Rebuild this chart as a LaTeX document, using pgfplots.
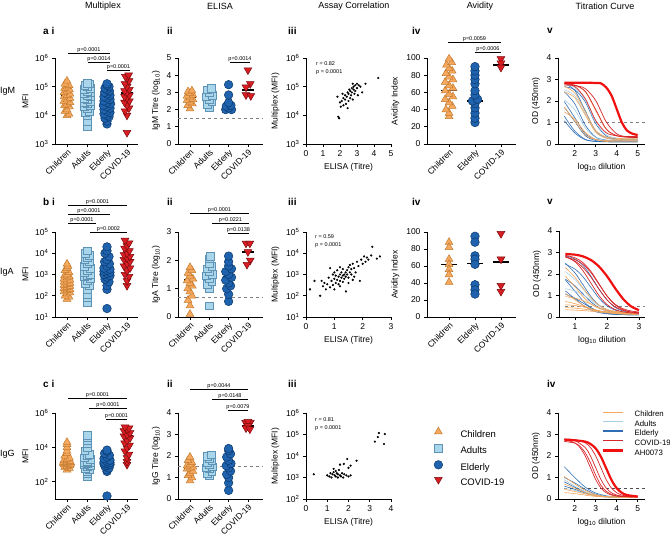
\documentclass[border=0pt]{standalone}
\usepackage{fontspec}
\setmainfont{Liberation Sans}
\usepackage{pgfplots}
\pgfplotsset{compat=1.18}
\definecolor{chF}{HTML}{F6A95E}
\definecolor{chE}{HTML}{C27A2E}
\definecolor{adF}{HTML}{A9D6EA}
\definecolor{adE}{HTML}{5E93B5}
\definecolor{elF}{HTML}{1F63AE}
\definecolor{elE}{HTML}{0B386B}
\definecolor{cvF}{HTML}{D81E24}
\definecolor{cvE}{HTML}{7A0C0C}
\definecolor{lnCh}{HTML}{F5A65B}
\definecolor{lnAd}{HTML}{A6CEE3}
\definecolor{lnEl}{HTML}{2F6EB5}
\definecolor{lnCv}{HTML}{D7262B}
\definecolor{lnAH}{HTML}{F01010}
\newcommand\tf{\fontsize{8.5}{9}\selectfont}
\newcommand\ttl{\fontsize{9}{10}\selectfont}
\newcommand\pl{\fontsize{10}{11}\selectfont\bfseries}
\newcommand\pf{\fontsize{5.5}{6}\selectfont}
\newcommand\brk[4]{\draw[line width=0.6pt] (#1,#3) -- (#2,#3); \node[font=\pf, anchor=south, inner sep=0.6pt] at ({(#1+#2)/2},#3) {p=#4};}
\pgfplotsset{
 prism/.style={scale only axis, anchor=south west, axis lines=left, axis line style={-,line width=0.8pt},
   every tick/.style={black,line width=0.8pt}, tick align=outside, major tick length=3pt, clip=false,
   ticklabel style={font=\tf}, label style={font=\tf}, /pgf/number format/assume math mode=true,
   scaled ticks=false, yminorticks=false, xminorticks=false},
 catx/.style={xtick={0,1,2,3}, xticklabels={Children,Adults,Elderly,COVID-19}, xticklabel style={rotate=45, anchor=north east, inner sep=1pt}},
 catxx/.style={xtick={0,1,2}, xticklabels={Children,Elderly,COVID-19}, xticklabel style={rotate=45, anchor=north east, inner sep=1pt}},
 ch/.style={only marks, mark=triangle*, mark size=4.5pt, mark options={fill=chF, draw=chE, line width=0.5pt}, forget plot},
 ad/.style={only marks, mark=square*, mark size=3.8pt, mark options={fill=adF, draw=adE, line width=0.5pt}, forget plot},
 el/.style={only marks, mark=*, mark size=4.3pt, mark options={fill=elF, draw=elE, line width=0.5pt}, forget plot},
 cv/.style={only marks, mark=triangle*, mark size=4.5pt, mark options={rotate=180, fill=cvF, draw=cvE, line width=0.5pt}, forget plot},
 dots/.style={only marks, mark=*, mark size=0.9pt, black, forget plot},
 med/.style={black, line width=1.6pt, forget plot, no markers},
 refl/.style={gray, dashed, line width=0.6pt, forget plot, no markers},
 tb/.style={smooth, no markers, lnEl, line width=0.6pt, forget plot},
 tl/.style={smooth, no markers, lnAd, line width=0.6pt, forget plot},
 to/.style={smooth, no markers, lnCh, line width=0.6pt, forget plot},
 tr/.style={smooth, no markers, lnCv, line width=0.7pt, forget plot},
 tR/.style={smooth, no markers, lnAH, line width=2.2pt, forget plot},
}
\begin{document}
\begin{tikzpicture}
\useasboundingbox (0pt,0pt) rectangle (670pt,-539pt);

%================ ROW A =================
\begin{axis}[prism, catx, at={(55pt,-144pt)}, width=83pt, height=86pt, ymode=log, ymin=1e3, ymax=1e6,
 ytick={1e3,1e4,1e5,1e6}, yticklabels={10\textsuperscript{3},10\textsuperscript{4},10\textsuperscript{5},10\textsuperscript{6}},
 xmin=-0.6, xmax=3.55, ylabel={MFI}]
\addplot[ch] coordinates {(0,1.0e4) (0.1,1.12e4) (-0.1,1.41e4) (0,1.58e4) (0.12,2.0e4) (-0.12,2.24e4) (0,2.51e4) (0.15,2.82e4) (-0.15,3.16e4) (0,3.55e4) (0.15,3.98e4) (-0.15,4.47e4) (0,5.01e4) (0.15,5.62e4) (-0.15,6.31e4) (0,7.08e4) (0.12,7.94e4) (-0.12,8.91e4) (0,1.0e5) (0.1,1.12e5) (-0.1,1.26e5) (0,1.58e5)};
\addplot[ad] coordinates {(1,4.0e3) (1,6.3e3) (1,1.0e4) (0.9,1.26e4) (1.1,1.41e4) (1,1.78e4) (0.85,2.0e4) (1.15,2.24e4) (1,2.51e4) (0.85,2.82e4) (1.15,3.16e4) (1,3.55e4) (0.85,3.98e4) (1.15,4.47e4) (1,5.01e4) (0.85,5.62e4) (1.15,6.31e4) (1,7.08e4) (0.85,7.94e4) (1.15,8.91e4) (1,1.0e5) (0.88,1.12e5) (1.12,1.26e5) (1,1.3e5)};
\addplot[el] coordinates {(2,5.0e3) (2,6.3e3) (1.9,7.9e3) (2.1,8.9e3) (2,1.0e4) (1.85,1.12e4) (2.15,1.26e4) (2,1.41e4) (1.85,1.58e4) (2.15,1.78e4) (2,2.0e4) (1.82,2.24e4) (2.18,2.51e4) (2,2.82e4) (1.85,3.16e4) (2.15,3.55e4) (2,3.98e4) (1.85,4.47e4) (2.15,5.01e4) (2,5.62e4) (1.88,6.31e4) (2.12,7.08e4) (2,7.94e4) (1.9,8.91e4) (2.1,1.0e5) (2,1.12e5) (2,1.26e5)};
\addplot[cv] coordinates {(3,2.5e3) (3,1.0e4) (2.9,1.41e4) (3.1,1.78e4) (3,2.24e4) (2.88,2.82e4) (3.12,3.16e4) (3,3.98e4) (2.88,4.47e4) (3.12,5.01e4) (3,6.31e4) (2.88,7.08e4) (3.12,7.94e4) (3,1.0e5) (2.9,1.26e5) (3.1,1.58e5) (3,2.0e5) (2.92,2.24e5) (3.08,2.51e5)};
\addplot[med] coordinates {(-0.3,5e4) (0.3,5e4)};
\addplot[med] coordinates {(0.7,4.5e4) (1.3,4.5e4)};
\addplot[med] coordinates {(1.7,3e4) (2.3,3e4)};
\addplot[med] coordinates {(2.7,6e4) (3.3,6e4)};
\end{axis}

\begin{axis}[prism, catx, at={(178pt,-144pt)}, width=85pt, height=86pt, ymin=0, ymax=5, ytick={0,1,2,3,4,5},
 xmin=-0.62, xmax=3.78, ylabel={IgM Titre (log\textsubscript{10})}]
\addplot[refl] coordinates {(-0.62,1.5) (3.78,1.5)};
\addplot[ch] coordinates {(0,2.05) (-0.12,2.25) (0.12,2.35) (0,2.45) (-0.15,2.55) (0.15,2.6) (0,2.7) (-0.15,2.8) (0.15,2.85) (0,2.95) (-0.1,3.05) (0.1,3.1)};
\addplot[ad] coordinates {(1,2.15) (0.88,2.3) (1.12,2.45) (1,2.6) (0.85,2.75) (1.15,2.85) (1,3.0) (0.9,3.15) (1.1,3.25)};
\addplot[el] coordinates {(1.85,2.0) (2.15,2.0) (2,2.1) (1.88,2.2) (2.12,2.25) (2,2.4) (2,2.85) (2,3.45)};
\addplot[cv] coordinates {(3,4.3) (3.12,3.5) (2.9,3.3) (2.9,2.85) (3.15,2.8)};
\addplot[med] coordinates {(-0.3,2.7) (0.3,2.7)};
\addplot[med] coordinates {(0.7,2.7) (1.3,2.7)};
\addplot[med] coordinates {(1.7,2.2) (2.3,2.2)};
\addplot[med] coordinates {(2.7,3.15) (3.3,3.15)};
\end{axis}

\begin{axis}[prism, at={(306pt,-144pt)}, width=85pt, height=86pt, xmin=0, xmax=5, xtick={0,1,2,3,4,5},
 ymode=log, ymin=1e3, ymax=1e6, ytick={1e3,1e4,1e5,1e6}, yticklabels={10\textsuperscript{3},10\textsuperscript{4},10\textsuperscript{5},10\textsuperscript{6}},
 xlabel={ELISA (Titre)}, ylabel={Multiplex (MFI)}]
\addplot[dots] coordinates {(1.9,8.9e3) (1.95,7.9e3) (2.0,2.82e4) (2.05,2.0e4) (2.1,3.16e4) (2.2,3.98e4) (2.2,2.24e4) (2.3,5.01e4) (2.3,3.55e4) (2.35,2.51e4) (2.4,4.47e4) (2.45,6.31e4) (2.5,3.16e4) (2.5,5.62e4) (2.55,7.94e4) (2.6,3.98e4) (2.6,7.08e4) (2.65,5.01e4) (2.7,8.91e4) (2.7,6.31e4) (2.75,3.55e4) (2.8,7.94e4) (2.8,1.0e5) (2.85,5.62e4) (2.9,1.12e5) (2.9,7.08e4) (3.0,8.91e4) (3.05,5.01e4) (3.1,1.12e5) (3.2,1.0e5) (3.3,6.31e4) (3.5,1.26e5) (4.25,2.0e5) (2.45,1.78e4) (2.15,5.62e4) (2.75,1.26e5) (1.85,4.47e4) (3.0,1.26e5)};
\end{axis}

\begin{axis}[prism, catxx, at={(427pt,-144pt)}, width=89pt, height=86pt, ymin=0, ymax=100, ytick={0,20,40,60,80,100},
 xmin=-0.85, xmax=2.58, ylabel={Avidity Index}]
\addplot[ch] coordinates {(0,32) (0,36) (-0.12,40) (0.12,44) (0,48) (-0.15,52) (0.15,55) (0,58) (-0.15,62) (0.15,65) (0,68) (-0.15,72) (0.15,75) (0,78) (-0.12,82) (0.12,85) (0,88) (-0.1,92) (0.1,95) (0,99)};
\addplot[el] coordinates {(1,25) (1,30) (1,36) (1,42) (1,47) (0.9,50) (1.1,52) (1,57) (1,62) (1,70) (1,75) (1,80) (1,85) (1,90)};
\addplot[cv] coordinates {(2,99) (2,94) (2,89)};
\addplot[med] coordinates {(-0.3,62) (0.3,62)};
\addplot[med] coordinates {(0.7,50) (1.3,50)};
\addplot[med] coordinates {(1.7,92) (2.3,92)};
\end{axis}

\begin{axis}[prism, at={(558pt,-144pt)}, width=87pt, height=86pt, xmin=1.2, xmax=5.35, xtick={2,3,4,5},
 ymin=0, ymax=4, ytick={0,1,2,3,4}, xlabel={log\textsubscript{10} dilution}, ylabel={OD (450nm)}]
\addplot[refl] coordinates {(1.5,1) (5.35,1)};
\addplot[tb] coordinates {(1.5,1.975) (2,1.225) (2.5,0.475) (3,0.217) (3.5,0.163) (4,0.15) (4.5,0.15) (5,0.15)};
\addplot[tb] coordinates {(1.5,1.295) (2,0.605) (2.5,0.219) (3,0.122) (3.5,0.11) (4,0.1) (4.5,0.1) (5,0.1)};
\addplot[tb] coordinates {(1.5,2.43) (2,1.87) (2.5,0.878) (3,0.322) (3.5,0.182) (4,0.15) (4.5,0.15) (5,0.15)};
\addplot[tb] coordinates {(1.5,1.713) (2,1.05) (2.5,0.387) (3,0.159) (3.5,0.111) (4,0.1) (4.5,0.1) (5,0.1)};
\addplot[tb] coordinates {(1.5,2.816) (2,2.492) (2.5,1.55) (3,0.608) (3.5,0.284) (4,0.216) (4.5,0.2) (5,0.2)};
\addplot[tb] coordinates {(1.5,2.668) (2,2.525) (2.5,1.958) (3,0.943) (3.5,0.375) (4,0.233) (4.5,0.2) (5,0.2)};
\addplot[tb] coordinates {(1.5,1.084) (2,0.516) (2.5,0.198) (3,0.118) (3.5,0.1) (4,0.1) (4.5,0.1) (5,0.1)};
\addplot[tl] coordinates {(1.5,2.526) (2,2.238) (2.5,1.4) (3,0.562) (3.5,0.274) (4,0.214) (4.5,0.2) (5,0.2)};
\addplot[tl] coordinates {(1.5,2.767) (2,2.622) (2.5,2.043) (3,1.007) (3.5,0.429) (4,0.283) (4.5,0.265) (5,0.25)};
\addplot[tl] coordinates {(1.5,2.057) (2,1.591) (2.5,0.759) (3,0.294) (3.5,0.177) (4,0.15) (4.5,0.15) (5,0.15)};
\addplot[to] coordinates {(1.5,2.429) (2,2.153) (2.5,1.35) (3,0.547) (3.5,0.271) (4,0.214) (4.5,0.2) (5,0.2)};
\addplot[to] coordinates {(1.5,2.673) (2,2.373) (2.5,1.5) (3,0.628) (3.5,0.328) (4,0.265) (4.5,0.25) (5,0.25)};
\addplot[to] coordinates {(1.5,1.721) (2,1.075) (2.5,0.429) (3,0.207) (3.5,0.161) (4,0.15) (4.5,0.15) (5,0.15)};
\addplot[to] coordinates {(1.5,2.785) (2,2.723) (2.5,2.423) (3,1.55) (3.5,0.678) (4,0.378) (4.5,0.315) (5,0.3)};
\addplot[to] coordinates {(1.5,1.495) (2,1.155) (2.5,0.546) (3,0.205) (3.5,0.12) (4,0.1) (4.5,0.1) (5,0.1)};
\addplot[tr] coordinates {(1.5,2.8) (2,2.74) (2.5,2.45) (3,1.6) (3.5,0.7) (4,0.39) (4.5,0.32) (5,0.3)};
\addplot[tr] coordinates {(1.5,2.745) (2,2.718) (2.5,2.579) (3,2.022) (3.5,1.028) (4,0.472) (4.5,0.332) (5,0.3)};
\addplot[tr] coordinates {(1.5,2.818) (2,2.675) (2.5,2.108) (3,1.093) (3.5,0.525) (4,0.383) (4.5,0.35) (5,0.35)};
\addplot[tR] coordinates {(1.5,2.85) (2,2.85) (2.5,2.85) (3,2.84) (3.25,2.82) (3.5,2.63) (3.75,2.26) (4,1.63) (4.25,0.99) (4.5,0.62) (4.75,0.48) (5,0.42)};
\end{axis}

%================ ROW B =================
\begin{axis}[prism, catx, at={(55pt,-317pt)}, width=83pt, height=85pt, ymode=log, ymin=1e1, ymax=1e5,
 ytick={1e1,1e2,1e3,1e4,1e5}, yticklabels={10\textsuperscript{1},10\textsuperscript{2},10\textsuperscript{3},10\textsuperscript{4},10\textsuperscript{5}},
 xmin=-0.6, xmax=3.55, ylabel={MFI}]
\addplot[ch] coordinates {(0,7.0e1) (0.1,8.9e1) (-0.1,1.0e2) (0,1.26e2) (0.15,1.41e2) (-0.15,1.58e2) (0,1.78e2) (0.15,2.0e2) (-0.15,2.24e2) (0,2.51e2) (0.15,2.82e2) (-0.15,3.16e2) (0,3.55e2) (0.15,3.98e2) (-0.15,4.47e2) (0,5.01e2) (0.15,5.62e2) (-0.15,6.31e2) (0,7.08e2) (0.12,7.94e2) (-0.12,8.91e2) (0,1.0e3) (0.1,1.26e3) (-0.1,1.58e3) (0,2.0e3) (0.05,2.51e3) (0,3.16e3)};
\addplot[ad] coordinates {(1,5.0e1) (1,8.0e1) (1,1.2e2) (1,2.0e2) (1.1,3.0e2) (0.9,4.0e2) (1,5.0e2) (1.15,6.3e2) (0.85,7.9e2) (1,8.9e2) (1.15,1.0e3) (0.85,1.26e3) (1,1.58e3) (1.15,2.0e3) (0.85,2.51e3) (1,3.16e3) (1.12,4.0e3) (0.88,5.0e3) (1,6.3e3) (1.1,8.0e3) (0.9,1.0e4) (1,1.3e4)};
\addplot[el] coordinates {(2,2.5e1) (2,2.0e2) (2,3.0e2) (2.1,4.5e2) (1.9,6.0e2) (2,7.5e2) (2.15,8.9e2) (1.85,1.0e3) (2,1.12e3) (2.15,1.26e3) (1.85,1.41e3) (2,1.58e3) (2.15,1.78e3) (1.85,2.0e3) (2,2.5e3) (2.12,3.2e3) (1.88,4.0e3) (2,5.0e3) (2.1,7.0e3) (1.9,1.0e4) (2,1.3e4) (2,2.0e4)};
\addplot[cv] coordinates {(3,3.0e2) (3,5.0e2) (3.1,8.0e2) (2.9,1.0e3) (3,1.5e3) (3.15,2.0e3) (2.85,2.5e3) (3,3.2e3) (3.15,4.0e3) (2.85,5.0e3) (3,6.0e3) (3.15,7.0e3) (2.85,8.5e3) (3,1.0e4) (3.12,1.3e4) (2.88,1.7e4) (3,2.2e4) (3.1,3.0e4) (2.9,4.0e4)};
\addplot[med] coordinates {(-0.3,3.8e2) (0.3,3.8e2)};
\addplot[med] coordinates {(0.7,1.0e3) (1.3,1.0e3)};
\addplot[med] coordinates {(1.7,1.45e3) (2.3,1.45e3)};
\addplot[med] coordinates {(2.7,5.0e3) (3.3,5.0e3)};
\end{axis}

\begin{axis}[prism, catx, at={(178pt,-317pt)}, width=85pt, height=85pt, ymin=0, ymax=3, ytick={0,1,2,3},
 xmin=-0.62, xmax=3.78, ylabel={IgA Titre (log\textsubscript{10})}]
\addplot[refl] coordinates {(-0.62,0.7) (3.78,0.7)};
\addplot[ch] coordinates {(0,0.1) (0,0.4) (-0.1,0.6) (0.1,0.75) (0,0.9) (-0.12,1.0) (0.12,1.1) (0,1.2) (-0.15,1.28) (0.15,1.35) (0,1.45) (-0.1,1.55) (0.1,1.65) (0,1.75)};
\addplot[ad] coordinates {(1,0.4) (1,1.0) (0.88,1.15) (1.12,1.25) (1,1.35) (0.85,1.45) (1.15,1.5) (1,1.6) (0.88,1.7) (1.12,1.8) (1,1.9) (1,2.05) (1.05,2.15)};
\addplot[el] coordinates {(2,0.55) (2,0.8) (1.9,1.0) (2.1,1.1) (2,1.2) (1.85,1.3) (2.15,1.4) (2,1.5) (1.85,1.6) (2.15,1.7) (2,1.8) (2,1.95) (2,2.15)};
\addplot[cv] coordinates {(2.9,2.6) (3.1,2.6) (3,2.3) (3.12,2.0) (2.95,1.85)};
\addplot[med] coordinates {(-0.3,1.3) (0.3,1.3)};
\addplot[med] coordinates {(0.7,1.45) (1.3,1.45)};
\addplot[med] coordinates {(1.7,1.42) (2.3,1.42)};
\addplot[med] coordinates {(2.7,2.3) (3.3,2.3)};
\end{axis}

\begin{axis}[prism, at={(306pt,-317pt)}, width=85pt, height=85pt, xmin=0, xmax=3, xtick={0,1,2,3},
 ymode=log, ymin=1e1, ymax=1e5, ytick={1e1,1e2,1e3,1e4,1e5}, yticklabels={10\textsuperscript{1},10\textsuperscript{2},10\textsuperscript{3},10\textsuperscript{4},10\textsuperscript{5}},
 xlabel={ELISA (Titre)}, ylabel={Multiplex (MFI)}]
\addplot[dots] coordinates {(0.14,2.0e2) (0.5,1.0e2) (0.55,5.0e2) (0.6,2.8e2) (0.65,4.0e2) (0.7,2.0e2) (0.75,3.5e2) (0.8,7.1e2) (0.85,2.0e3) (0.85,2.5e2) (0.9,5.0e2) (0.95,1.0e3) (0.95,3.2e2) (1.0,6.3e2) (1.0,1.26e3) (1.05,4.0e2) (1.05,8.9e2) (1.1,5.6e2) (1.1,1.58e3) (1.15,7.9e2) (1.15,3.5e2) (1.2,1.0e3) (1.2,5.0e2) (1.2,2.2e3) (1.25,7.1e2) (1.25,1.26e3) (1.3,8.9e2) (1.3,4.5e2) (1.3,1.8e3) (1.35,1.0e3) (1.35,6.3e2) (1.4,1.26e3) (1.4,7.9e2) (1.41,1.6e2) (1.45,1.6e3) (1.45,1.0e3) (1.5,7.1e2) (1.5,2.2e3) (1.5,4.0e2) (1.55,1.26e3) (1.55,2.8e3) (1.6,1.0e3) (1.6,1.8e3) (1.65,5.6e2) (1.65,3.2e3) (1.7,2.0e3) (1.75,1.26e3) (1.8,4.0e3) (1.85,2.5e3) (1.9,5.0e2) (1.95,5.0e3) (2.0,3.2e3) (2.05,7.1e3) (2.1,4.0e3) (2.15,6.3e3) (2.2,5.0e3) (2.3,7.9e3) (2.34,2.0e4) (2.5,5.6e3) (2.61,7.1e3) (1.0,2.0e2) (1.2,2.8e2) (0.3,5.0e2) (1.7,7.9e2)};
\end{axis}

\begin{axis}[prism, catxx, at={(427pt,-317pt)}, width=89pt, height=85pt, ymin=0, ymax=100, ytick={0,20,40,60,80,100},
 xmin=-0.85, xmax=2.58, ylabel={Avidity Index}]
\addplot[ch] coordinates {(0,88) (0,82) (0,68) (0,62) (0,56) (0,50) (0,41)};
\addplot[el] coordinates {(1,95) (1,88) (1,72) (1,68) (1,62) (1,38) (1,32) (1,27)};
\addplot[cv] coordinates {(2,98) (2,68) (2,37) (2,30)};
\addplot[med] coordinates {(-0.3,62) (0.3,62)};
\addplot[med] coordinates {(0.7,63) (1.3,63)};
\addplot[med] coordinates {(1.7,65) (2.3,65)};
\end{axis}

\begin{axis}[prism, at={(559pt,-317pt)}, width=86pt, height=86pt, xmin=0.5, xmax=3.19, xtick={1,2,3},
 ymin=0, ymax=4, ytick={0,1,2,3,4}, xlabel={log\textsubscript{10} dilution}, ylabel={OD (450nm)}]
\addplot[refl] coordinates {(0.7,0.5) (3.19,0.5)};
\addplot[tb] coordinates {(0.7,2.5) (1,2.05) (1.25,1.5) (1.5,0.95) (1.75,0.558) (2,0.339) (2.25,0.234) (2.5,0.185) (2.75,0.166) (3,0.15)};
\addplot[tb] coordinates {(0.7,1.73) (1,1.2) (1.25,0.753) (1.5,0.432) (1.75,0.254) (2,0.168) (2.25,0.129) (2.5,0.113) (2.75,0.1) (3,0.1)};
\addplot[tb] coordinates {(0.7,1.76) (1,1.45) (1.25,1.075) (1.5,0.7) (1.75,0.429) (2,0.28) (2.25,0.207) (2.5,0.174) (2.75,0.16) (3,0.15)};
\addplot[tb] coordinates {(0.7,1.21) (1,0.85) (1.25,0.546) (1.5,0.327) (1.75,0.205) (2,0.147) (2.25,0.12) (2.5,0.109) (2.75,0.1) (3,0.1)};
\addplot[tb] coordinates {(0.7,2.45) (1,2.23) (1.25,1.872) (1.5,1.375) (1.75,0.878) (2,0.52) (2.25,0.322) (2.5,0.226) (2.75,0.182) (3,0.165)};
\addplot[tb] coordinates {(0.7,1.06) (1,0.873) (1.25,0.65) (1.5,0.427) (1.75,0.266) (2,0.177) (2.25,0.134) (2.5,0.114) (2.75,0.105) (3,0.1)};
\addplot[tb] coordinates {(0.7,2.85) (1,2.7) (1.25,2.4) (1.5,1.9) (1.75,1.3) (2,0.8) (2.25,0.45) (2.5,0.28) (2.75,0.2) (3,0.17)};
\addplot[tl] coordinates {(0.7,2.11) (1,1.747) (1.25,1.3) (1.5,0.853) (1.75,0.532) (2,0.354) (2.25,0.268) (2.5,0.229) (2.75,0.213) (3,0.2)};
\addplot[tl] coordinates {(0.7,1.32) (1,1.21) (1.25,1.03) (1.5,0.775) (1.75,0.521) (2,0.339) (2.25,0.238) (2.5,0.189) (2.75,0.166) (3,0.158)};
\addplot[to] coordinates {(0.7,1.9) (1,1.4) (1.25,0.95) (1.5,0.6) (1.75,0.4) (2,0.29) (2.25,0.24) (2.5,0.22) (2.75,0.2) (3,0.2)};
\addplot[to] coordinates {(0.7,1.09) (1,0.8) (1.25,0.556) (1.5,0.381) (1.75,0.284) (2,0.237) (2.25,0.216) (2.5,0.2) (2.75,0.2) (3,0.2)};
\addplot[to] coordinates {(0.7,0.95) (1,0.879) (1.25,0.762) (1.5,0.6) (1.75,0.438) (2,0.321) (2.25,0.256) (2.5,0.225) (2.75,0.21) (3,0.205)};
\addplot[to] coordinates {(0.7,0.72) (1,0.622) (1.25,0.5) (1.5,0.378) (1.75,0.291) (2,0.242) (2.25,0.219) (2.5,0.208) (2.75,0.2) (3,0.2)};
\addplot[to] coordinates {(0.7,0.57) (1,0.532) (1.25,0.466) (1.5,0.375) (1.75,0.284) (2,0.218) (2.25,0.181) (2.5,0.164) (2.75,0.156) (3,0.153)};
\addplot[to] coordinates {(0.7,0.44) (1,0.41) (1.25,0.37) (1.5,0.32) (1.75,0.27) (2,0.22) (2.25,0.19) (2.5,0.17) (2.75,0.16) (3,0.155)};
\addplot[to] coordinates {(0.7,0.34) (1,0.32) (1.25,0.3) (1.5,0.27) (1.75,0.23) (2,0.19) (2.25,0.16) (2.5,0.13) (2.75,0.12) (3,0.11)};
\addplot[to] coordinates {(0.7,2.3) (1,1.85) (1.25,1.35) (1.5,0.9) (1.75,0.55) (2,0.35) (2.25,0.26) (2.5,0.22) (2.75,0.2) (3,0.2)};
\addplot[tr] coordinates {(0.7,2.83) (1,2.57) (1.25,2.15) (1.5,1.575) (1.75,1.0) (2,0.58) (2.25,0.35) (2.5,0.24) (2.75,0.19) (3,0.17)};
\addplot[tr] coordinates {(0.7,2.87) (1,2.754) (1.25,2.527) (1.5,2.118) (1.75,1.55) (2,0.982) (2.25,0.573) (2.5,0.346) (2.75,0.237) (3,0.186)};
\addplot[tr] coordinates {(0.7,2.78) (1,2.665) (1.25,2.45) (1.5,2.063) (1.75,1.525) (2,0.987) (2.25,0.6) (2.5,0.386) (2.75,0.282) (3,0.234)};
\addplot[tr] coordinates {(0.7,2.8) (1,2.6) (1.25,2.3) (1.5,1.85) (1.75,1.3) (2,0.8) (2.25,0.48) (2.5,0.31) (2.75,0.23) (3,0.2)};
\addplot[tR] coordinates {(0.7,2.93) (1,2.9) (1.25,2.82) (1.5,2.65) (1.75,2.35) (2,1.9) (2.25,1.35) (2.5,0.85) (2.75,0.5) (3,0.32)};
\end{axis}

%================ ROW C =================
\begin{axis}[prism, catx, at={(55pt,-499pt)}, width=83pt, height=86pt, ymode=log, ymin=1e1, ymax=1e6,
 ytick={1e2,1e4,1e6}, yticklabels={10\textsuperscript{2},10\textsuperscript{4},10\textsuperscript{6}},
 xmin=-0.6, xmax=3.55, ylabel={MFI}]
\addplot[ch] coordinates {(0,5.0e2) (0.12,6.3e2) (-0.12,7.1e2) (0,7.9e2) (0.15,8.9e2) (-0.15,1.0e3) (0,1.05e3) (0.18,1.12e3) (-0.18,1.2e3) (0,1.26e3) (0.18,1.35e3) (-0.18,1.41e3) (0,1.5e3) (0.15,1.58e3) (-0.15,1.78e3) (0,2.0e3) (0.12,2.5e3) (-0.12,3.2e3) (0,4.5e3) (0,6.3e3) (0,1.0e4) (0,1.5e4) (0,2.0e4)};
\addplot[ad] coordinates {(1,2.0e2) (1,3.0e2) (1,4.0e2) (1.1,5.0e2) (0.9,6.3e2) (1,7.9e2) (1.15,8.9e2) (0.85,1.0e3) (1,1.12e3) (1.15,1.26e3) (0.85,1.41e3) (1,1.58e3) (1.15,2.0e3) (0.85,2.5e3) (1,3.2e3) (1.12,4.0e3) (0.88,6.3e3) (1,1.0e4) (1,1.6e4) (1,2.5e4) (1,4.0e4) (1,5.0e4)};
\addplot[el] coordinates {(2,1.5e1) (2,4.0e2) (2,5.0e2) (2.1,6.3e2) (1.9,7.9e2) (2,8.9e2) (2.15,1.0e3) (1.85,1.1e3) (2,1.2e3) (2.15,1.3e3) (1.85,1.4e3) (2,1.6e3) (2.15,1.8e3) (1.85,2.2e3) (2,2.8e3) (2.12,3.5e3) (1.88,4.5e3) (2,6.0e3) (2,7.0e3)};
\addplot[cv] coordinates {(3,1.0e3) (3,1.5e3) (3,2.5e3) (3.1,4.0e3) (2.9,6.0e3) (3,9.0e3) (3.12,1.3e4) (2.88,1.8e4) (3,2.5e4) (3.15,3.5e4) (2.85,4.5e4) (3,5.5e4) (3.15,7.0e4) (2.85,9.0e4) (3,1.1e5) (3.1,1.3e5) (2.9,1.5e5)};
\addplot[med] coordinates {(-0.3,1.3e3) (0.3,1.3e3)};
\addplot[med] coordinates {(0.7,1.3e3) (1.3,1.3e3)};
\addplot[med] coordinates {(1.7,1.3e3) (2.3,1.3e3)};
\addplot[med] coordinates {(2.7,5.0e4) (3.3,5.0e4)};
\end{axis}

\begin{axis}[prism, catx, at={(178pt,-499pt)}, width=85pt, height=86pt, ymin=0, ymax=4, ytick={0,1,2,3,4},
 xmin=-0.62, xmax=3.78, ylabel={IgG Titre (log\textsubscript{10})}]
\addplot[refl] coordinates {(-0.62,1.5) (3.78,1.5)};
\addplot[ch] coordinates {(0,0.85) (0.1,1.0) (-0.1,1.1) (0,1.2) (0.15,1.3) (-0.15,1.4) (0,1.45) (0.15,1.5) (-0.15,1.55) (0,1.6) (0.1,1.7) (-0.1,1.8) (0,1.95)};
\addplot[ad] coordinates {(1,1.1) (0.88,1.2) (1.12,1.3) (1,1.4) (0.85,1.45) (1.15,1.5) (1,1.6) (0.88,1.7) (1.12,1.8) (1,1.9) (0.9,2.0) (1.1,2.05)};
\addplot[el] coordinates {(2,0.4) (2,0.75) (2,1.0) (1.9,1.15) (2.1,1.3) (2,1.45) (1.88,1.55) (2.12,1.65) (2,1.8) (1.9,1.95) (2.1,2.1) (2,2.25) (2,2.35)};
\addplot[cv] coordinates {(2.88,3.55) (3.12,3.55) (3,3.6) (3,3.4) (2.9,3.3) (3.1,3.25)};
\addplot[med] coordinates {(-0.3,1.45) (0.3,1.45)};
\addplot[med] coordinates {(0.7,1.45) (1.3,1.45)};
\addplot[med] coordinates {(1.7,1.55) (2.3,1.55)};
\addplot[med] coordinates {(2.7,3.4) (3.3,3.4)};
\end{axis}

\begin{axis}[prism, at={(306pt,-499pt)}, width=85pt, height=86pt, xmin=0, xmax=4, xtick={0,1,2,3,4},
 ymode=log, ymin=1e2, ymax=1e6, ytick={1e2,1e3,1e4,1e5,1e6}, yticklabels={10\textsuperscript{2},10\textsuperscript{3},10\textsuperscript{4},10\textsuperscript{5},10\textsuperscript{6}},
 xlabel={ELISA (Titre)}, ylabel={Multiplex (MFI)},
 legend style={at={(1.494,0.837)}, anchor=north west, draw=none, fill=none, font=\fontsize{9.5}{10}\selectfont, row sep=5pt, inner sep=0pt, nodes={inner sep=0pt, text height=7pt, text depth=2pt}},
 legend cell align=left,
 legend image code/.code={\draw[#1] plot coordinates {(5pt,3pt)}; \path (0pt,0pt) (27pt,0pt);}]
\addlegendimage{only marks, mark=triangle*, mark size=4.5pt, mark options={fill=chF, draw=chE, line width=0.5pt}}
\addlegendentry{Children}
\addlegendimage{only marks, mark=square*, mark size=3.8pt, mark options={fill=adF, draw=adE, line width=0.5pt}}
\addlegendentry{Adults}
\addlegendimage{only marks, mark=*, mark size=4.3pt, mark options={fill=elF, draw=elE, line width=0.5pt}}
\addlegendentry{Elderly}
\addlegendimage{only marks, mark=triangle*, mark size=4.5pt, mark options={rotate=180, fill=cvF, draw=cvE, line width=0.5pt}}
\addlegendentry{COVID-19}
\addplot[dots] coordinates {(0.37,1.41e3) (1.0,1.26e3) (1.1,1.12e3) (1.15,1.58e3) (1.2,1.0e3) (1.25,1.41e3) (1.3,1.78e3) (1.35,1.26e3) (1.4,1.12e3) (1.4,2.0e3) (1.45,1.58e3) (1.5,1.0e3) (1.5,1.41e3) (1.55,2.24e3) (1.6,1.26e3) (1.65,1.12e3) (1.7,1.58e3) (1.75,1.0e3) (1.8,1.41e3) (1.9,1.26e3) (2.0,1.12e3) (2.1,1.26e3) (1.3,2.51e3) (1.6,3.98e3) (1.78,4.27e3) (1.94,7.24e3) (2.0,2.82e3) (2.38,6.03e3) (2.1,3.55e3) (3.24,4.68e4) (3.38,7.59e4) (3.43,1.17e5) (3.71,1.05e5) (3.67,3.63e4)};
\end{axis}

\begin{axis}[prism, at={(558pt,-499pt)}, width=87pt, height=86pt, xmin=1.2, xmax=5.35, xtick={2,3,4,5},
 ymin=0, ymax=4, ytick={0,1,2,3,4}, xlabel={log\textsubscript{10} dilution}, ylabel={OD (450nm)},
 legend style={at={(0.50,1.026)}, anchor=north west, draw=none, fill=none, font=\fontsize{7.8}{8.5}\selectfont, row sep=2pt, inner sep=0pt, nodes={inner sep=0pt, text height=6pt, text depth=1.5pt}},
 legend cell align=left,
 legend image code/.code={\draw[#1] (0pt,2.5pt) -- (20pt,2.5pt); \path (30pt,0pt);}]
\addlegendimage{lnCh, line width=0.8pt}
\addlegendentry{Children}
\addlegendimage{lnAd, line width=0.8pt}
\addlegendentry{Adults}
\addlegendimage{lnEl, line width=1.6pt}
\addlegendentry{Elderly}
\addlegendimage{lnCv, line width=1pt}
\addlegendentry{COVID-19}
\addlegendimage{lnAH, line width=3pt}
\addlegendentry{AH0073}
\addplot[refl, black!70] coordinates {(1.5,0.5) (5.35,0.5)};
\addplot[tb] coordinates {(1.5,1.5) (2,1.0) (2.5,0.55) (3,0.28) (3.5,0.15) (4,0.1) (5,0.08)};
\addplot[tb] coordinates {(1.5,1.0) (2,0.75) (2.5,0.45) (3,0.22) (3.5,0.12) (4,0.09) (5,0.08)};
\addplot[tb] coordinates {(1.5,0.8) (2,0.55) (2.5,0.3) (3,0.15) (3.5,0.1) (4,0.08) (5,0.07)};
\addplot[tb] coordinates {(1.5,0.6) (2,0.45) (2.5,0.28) (3,0.15) (3.5,0.1) (4,0.08) (5,0.07)};
\addplot[tl] coordinates {(1.5,0.9) (2,0.6) (2.5,0.35) (3,0.18) (3.5,0.11) (4,0.08) (5,0.07)};
\addplot[tl] coordinates {(1.5,0.5) (2,0.4) (2.5,0.25) (3,0.14) (3.5,0.1) (4,0.08) (5,0.07)};
\addplot[to] coordinates {(1.5,1.05) (2,0.7) (2.5,0.4) (3,0.2) (3.5,0.12) (4,0.09) (5,0.08)};
\addplot[to] coordinates {(1.5,0.7) (2,0.5) (2.5,0.3) (3,0.16) (3.5,0.11) (4,0.09) (5,0.08)};
\addplot[to] coordinates {(1.5,0.45) (2,0.35) (2.5,0.24) (3,0.15) (3.5,0.11) (4,0.09) (5,0.08)};
\addplot[to] coordinates {(1.5,0.3) (2,0.25) (2.5,0.18) (3,0.12) (3.5,0.09) (4,0.08) (5,0.07)};
\addplot[tr] coordinates {(1.5,2.765) (2,2.61) (2.25,2.39) (2.5,2.0) (2.75,1.45) (3,0.902) (3.25,0.508) (3.5,0.289) (3.75,0.184) (4,0.135) (4.5,0.1) (5,0.1)};
\addplot[tr] coordinates {(1.5,2.78) (2,2.716) (2.5,2.39) (2.75,2.0) (3,1.45) (3.25,0.902) (3.5,0.508) (3.75,0.289) (4,0.184) (4.25,0.135) (4.5,0.116) (5,0.1)};
\addplot[tr] coordinates {(1.5,2.8) (2,2.765) (2.5,2.61) (2.75,2.39) (3,2.0) (3.25,1.45) (3.5,0.902) (3.75,0.508) (4,0.289) (4.25,0.184) (4.5,0.135) (5,0.1)};
\addplot[tr] coordinates {(1.5,2.68) (2,2.6) (2.25,2.45) (2.5,2.15) (2.75,1.68) (3,1.1) (3.25,0.64) (3.5,0.36) (3.75,0.22) (4,0.15) (4.5,0.11) (5,0.1)};
\addplot[tR] coordinates {(1.5,2.75) (2,2.73) (2.5,2.67) (2.75,2.56) (3,2.35) (3.25,1.96) (3.5,1.425) (3.75,0.887) (4,0.5) (4.25,0.286) (4.5,0.182) (5,0.116)};
\end{axis}

%================ ANNOTATIONS =================
\begin{scope}[x=1pt,y=-1pt]
\node[font=\ttl] at (103,6) {Multiplex};
\node[font=\ttl] at (220,6) {ELISA};
\node[font=\ttl] at (354,6) {Assay Correlation};
\node[font=\ttl] at (480,6) {Avidity};
\node[font=\ttl] at (605,6) {Titration Curve};
\node[font=\pl, anchor=west, inner sep=0pt] at (43,31) {a i};
\node[font=\pl, anchor=west, inner sep=0pt] at (167,31) {ii};
\node[font=\pl, anchor=west, inner sep=0pt] at (288,31) {iii};
\node[font=\pl, anchor=west, inner sep=0pt] at (412,31) {iv};
\node[font=\pl, anchor=west, inner sep=0pt] at (547,31) {v};
\node[font=\pl, anchor=west, inner sep=0pt] at (43,202) {b i};
\node[font=\pl, anchor=west, inner sep=0pt] at (167,202) {ii};
\node[font=\pl, anchor=west, inner sep=0pt] at (288,202) {iii};
\node[font=\pl, anchor=west, inner sep=0pt] at (412,202) {iv};
\node[font=\pl, anchor=west, inner sep=0pt] at (547,202) {v};
\node[font=\pl, anchor=west, inner sep=0pt] at (43,384) {c i};
\node[font=\pl, anchor=west, inner sep=0pt] at (167,384) {ii};
\node[font=\pl, anchor=west, inner sep=0pt] at (288,384) {iii};
\node[font=\pl, anchor=west, inner sep=0pt] at (547,384) {iv};
\node[font=\ttl, anchor=west, inner sep=0pt] at (0,91) {IgM};
\node[font=\ttl, anchor=west, inner sep=0pt] at (0,272) {IgA};
\node[font=\ttl, anchor=west, inner sep=0pt] at (0,454) {IgG};
% r and p
\node[font=\pf, anchor=west, inner sep=0pt] at (316,64) {r = 0.82};
\node[font=\pf, anchor=west, inner sep=0pt] at (316,72) {p = 0.0001};
\node[font=\pf, anchor=west, inner sep=0pt] at (315,237) {r = 0.59};
\node[font=\pf, anchor=west, inner sep=0pt] at (315,245) {p = 0.0001};
\node[font=\pf, anchor=west, inner sep=0pt] at (315,420) {r = 0.81};
\node[font=\pf, anchor=west, inner sep=0pt] at (315,428) {p = 0.0001};
% brackets
\brk{68}{110}{53}{0.0001}
\brk{88}{110}{62}{0.0014}
\brk{107}{130}{70}{0.0001}
\brk{230}{250}{62}{0.0014}
\brk{448}{501}{42}{0.0059}
\brk{475}{501}{52}{0.0006}
\brk{68}{127}{205}{0.0001}
\brk{68}{110}{214}{0.0001}
\brk{68}{96}{223}{0.0001}
\brk{90}{127}{232}{0.0002}
\brk{190}{249}{213}{0.0001}
\brk{212}{249}{223}{0.0221}
\brk{228}{249}{233}{0.0138}
\brk{68}{127}{398}{0.0001}
\brk{89}{127}{408}{0.0001}
\brk{106}{127}{419}{0.0001}
\brk{190}{248}{389}{0.0044}
\brk{212}{248}{399}{0.0148}
\brk{228}{248}{410}{0.0079}
\end{scope}
\end{tikzpicture}
\end{document}
